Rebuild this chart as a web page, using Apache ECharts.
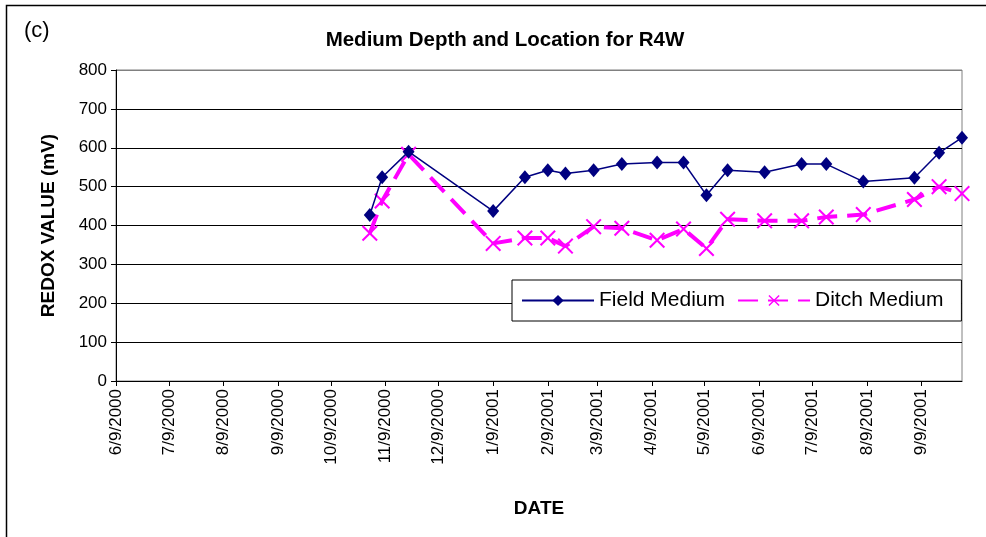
<!DOCTYPE html>
<html>
<head>
<meta charset="utf-8">
<script src="https://cdn.jsdelivr.net/npm/echarts@6/dist/echarts.min.js"></script>
<style>
html, body { margin: 0; padding: 0; background: #fff; }
#chart { width: 986px; height: 537px; }
</style>
</head>
<body>
<div id="chart"></div>
<script>
// sampling dates
var dates = ['2000-10-31', '2000-11-07', '2000-11-22', '2001-01-09', '2001-01-27',
  '2001-02-09', '2001-02-19', '2001-03-07', '2001-03-23', '2001-04-12',
  '2001-04-27', '2001-05-10', '2001-05-22', '2001-06-12', '2001-07-03',
  '2001-07-17', '2001-08-07', '2001-09-05', '2001-09-19', '2001-10-02'];
var fieldMedium = [427, 524, 590, 437, 524, 542, 534, 542, 558, 562,
  562, 478, 542, 537, 558, 558, 513, 523, 587, 626];
var ditchMedium = [380, 463, 583, 354, 368, 368, 347, 397, 393, 362,
  391, 341, 416, 412, 412, 422, 428, 467, 500, 482];
// x tick labels (m/d/yyyy)
var tickLabels = ['6/9/2000', '7/9/2000', '8/9/2000', '9/9/2000', '10/9/2000',
  '11/9/2000', '12/9/2000', '1/9/2001', '2/9/2001', '3/9/2001', '4/9/2001',
  '5/9/2001', '6/9/2001', '7/9/2001', '8/9/2001', '9/9/2001'];

function isoToTs(s) {
  var p = s.split('-');
  return Date.UTC(+p[0], +p[1] - 1, +p[2]);
}
function mdyToTs(s) {
  var p = s.split('/');
  return Date.UTC(+p[2], +p[0] - 1, +p[1]);
}
function fmt(v) {
  var d = new Date(v);
  return (d.getUTCMonth() + 1) + '/' + d.getUTCDate() + '/' + d.getUTCFullYear();
}

var tickValues = tickLabels.map(mdyToTs);
var xs = dates.map(isoToTs);
var fieldData = xs.map(function (x, i) { return [x, fieldMedium[i]]; });
var ditchData = xs.map(function (x, i) { return [x, ditchMedium[i]]; });

// thin "x" marker
var xMark = 'path://M0,0.9L0.9,0L5,4.1L9.1,0L10,0.9L5.9,5L10,9.1L9.1,10L5,5.9L0.9,10L0,9.1L4.1,5Z';
var font = 'Liberation Sans, Arial, sans-serif';

var chart = echarts.init(document.getElementById('chart'));
chart.setOption({
  animation: false,
  backgroundColor: '#fff',
  textStyle: { fontFamily: font, color: '#000' },
  title: {
    text: 'Medium Depth and Location for R4W',
    left: 500, top: 25, textAlign: 'center',
    textStyle: { fontFamily: font, fontSize: 20.5, fontWeight: 'bold', color: '#000' }
  },
  graphic: [
    { type: 'rect', shape: { x: 6.5, y: 5.5, width: 1100, height: 700 },
      style: { fill: 'none', stroke: '#000', lineWidth: 1.5 }, silent: true },
    { type: 'text', left: 24, top: 20,
      style: { text: '(c)', font: '22px ' + font, fill: '#000' } }
  ],
  grid: {
    left: 116, right: 24, top: 70, bottom: 156,
    show: true, borderColor: '#808080', borderWidth: 1
  },
  legend: {
    left: 512, top: 280,
    padding: [10, 18, 10, 9],
    itemGap: 12,
    itemWidth: 72, itemHeight: 14,
    borderColor: '#000', borderWidth: 1, borderRadius: 0,
    backgroundColor: '#fff',
    textStyle: { fontFamily: font, fontSize: 21, color: '#000' },
    data: ['Field Medium', 'Ditch Medium']
  },
  xAxis: {
    type: 'value',
    min: tickValues[0],
    max: xs[xs.length - 1],
    name: 'DATE',
    nameLocation: 'middle',
    nameGap: 118,
    nameTextStyle: { fontFamily: font, fontSize: 19, fontWeight: 'bold', color: '#000' },
    axisLine: { lineStyle: { color: '#000', width: 1 } },
    axisTick: { customValues: tickValues, length: 5, lineStyle: { color: '#000' } },
    axisLabel: {
      customValues: tickValues,
      rotate: 90, margin: 8,
      fontFamily: font, fontSize: 17, color: '#000',
      formatter: fmt
    },
    splitLine: { show: false }
  },
  yAxis: {
    type: 'value',
    min: 0, max: 800, interval: 100,
    name: 'REDOX VALUE (mV)',
    nameLocation: 'middle',
    nameGap: 58,
    nameTextStyle: { fontFamily: font, fontSize: 19, fontWeight: 'bold', color: '#000' },
    axisLine: { show: true, lineStyle: { color: '#000', width: 1 } },
    axisTick: { show: true, length: 5, lineStyle: { color: '#000' } },
    axisLabel: { fontFamily: font, fontSize: 17, color: '#000', margin: 9 },
    splitLine: {
      lineStyle: { color: ['#000', '#000', '#000', '#000', '#000', '#000', '#000', '#000', '#808080'], width: 1 }
    }
  },
  series: [
    {
      name: 'Field Medium',
      type: 'line',
      data: fieldData,
      symbol: 'diamond',
      symbolSize: [12, 14],
      itemStyle: { color: '#000080' },
      lineStyle: { color: '#000080', width: 1.5 },
      z: 3
    },
    {
      name: 'Ditch Medium',
      type: 'line',
      data: ditchData,
      symbol: xMark,
      symbolSize: 16,
      itemStyle: { color: '#FF00FF' },
      lineStyle: { color: '#FF00FF', width: 4, type: [20, 10] },
      z: 2
    }
  ]
});
</script>
</body>
</html>
